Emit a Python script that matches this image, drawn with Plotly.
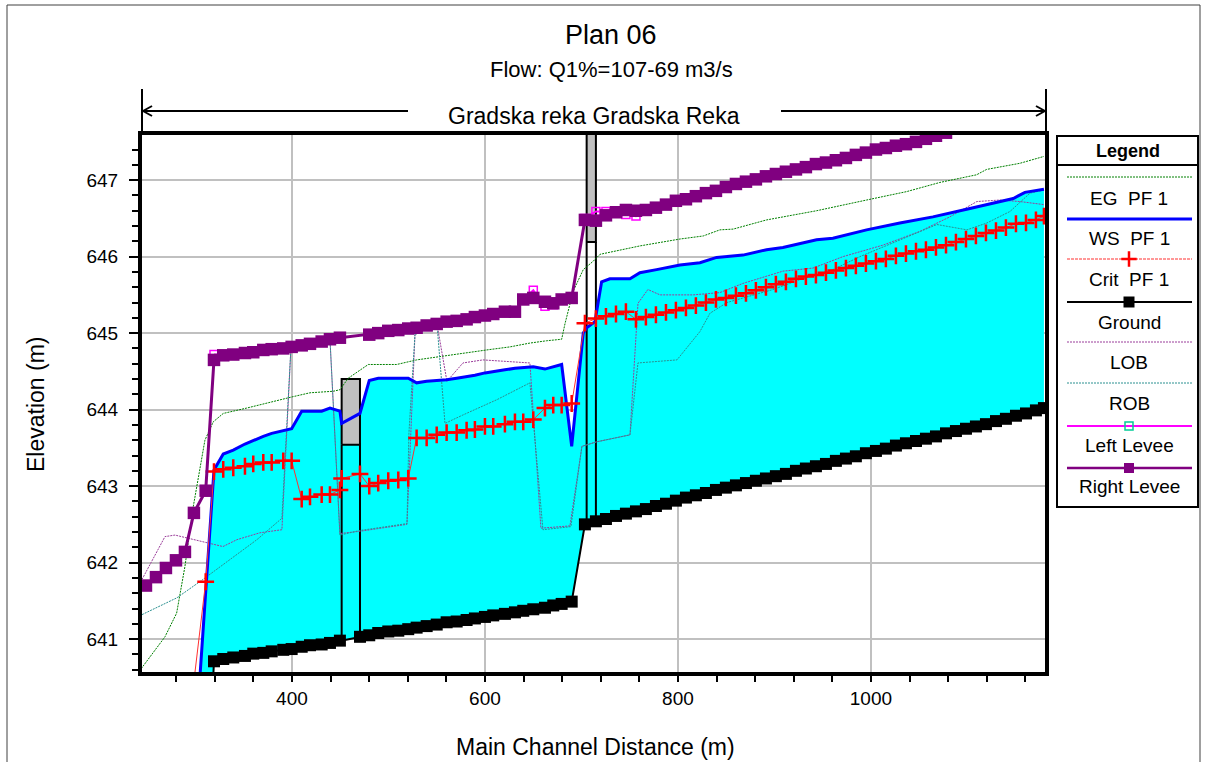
import plotly.graph_objects as go

# ---------------------------------------------------------------------------
# Longitudinal profile, Gradska reka - stations (m) and elevations (m)
# ---------------------------------------------------------------------------
STA_UP = [248.7, 259.1, 269.4, 279.8, 289.1, 298.4, 310.6]
STA_A = [319.2, 328.8, 339.2, 351.3, 359.9, 370.3, 379.0, 391.0, 399.7, 410.1,
         418.7, 430.8, 439.4, 449.7]
STA_B = [470.5, 480.1, 489.4, 499.8, 510.2, 520.5, 529.2, 539.6, 550.0, 560.3,
         570.7, 581.0, 589.6, 600.0, 608.6, 620.7, 631.1, 639.7, 650.1, 662.2,
         670.8, 679.5, 689.9]
STA_C = [703.6, 715.0, 725.4, 735.8, 746.1, 756.5, 766.8, 777.2, 787.6, 797.9,
         808.3, 818.6, 829.0, 839.4, 849.7, 860.1, 870.5, 880.8, 891.2, 901.5,
         911.9, 922.3, 932.6, 943.0, 953.4, 963.7, 974.1, 984.4, 994.8, 1005.2,
         1015.5, 1025.9, 1036.3, 1046.7, 1057.0, 1067.4, 1077.8, 1088.1, 1098.5,
         1108.8, 1119.2, 1129.6, 1139.9, 1150.3, 1160.7, 1171.0, 1179.3]

# channel invert (the two upstream values lie below the plotted range)
GROUND_UP = [638.30, 638.50]
GROUND_A = [640.71, 640.74, 640.76, 640.78, 640.81, 640.82, 640.84, 640.86, 640.87,
            640.90, 640.92, 640.93, 640.95, 640.98]
GROUND_B = [641.03, 641.05, 641.08, 641.10, 641.11, 641.13, 641.15, 641.17, 641.19,
            641.22, 641.23, 641.25, 641.27, 641.29, 641.31, 641.33, 641.35, 641.37,
            641.39, 641.41, 641.44, 641.46, 641.49]
GROUND_C = [642.50, 642.54, 642.57, 642.61, 642.64, 642.67, 642.70, 642.74, 642.77,
            642.81, 642.85, 642.88, 642.91, 642.95, 642.98, 643.01, 643.04, 643.07,
            643.10, 643.13, 643.16, 643.20, 643.23, 643.26, 643.29, 643.33, 643.36,
            643.39, 643.43, 643.46, 643.49, 643.53, 643.56, 643.59, 643.62, 643.65,
            643.69, 643.72, 643.75, 643.78, 643.81, 643.85, 643.88, 643.92, 643.95,
            643.99, 644.02]

# critical depth elevation
CRIT_UP = [640.45, 641.75]
CRIT_A = [643.19, 643.22, 643.24, 643.26, 643.29, 643.31, 643.31, 643.33, 643.33,
          642.83, 642.86, 642.89, 642.89, 642.95]
CRIT_BR1_STA = 451.5
CRIT_BR1 = 643.10
CRIT_B = [643.16, 643.00, 643.04, 643.07, 643.08, 643.10, 643.63, 643.63, 643.67,
          643.70, 643.70, 643.73, 643.74, 643.78, 643.78, 643.81, 643.84, 643.84,
          643.87, 644.02, 644.06, 644.06, 644.08]
CRIT_C = [645.13, 645.19, 645.22, 645.25, 645.28, 645.18, 645.21, 645.24, 645.27,
          645.30, 645.33, 645.36, 645.40, 645.44, 645.46, 645.49, 645.52, 645.56,
          645.60, 645.64, 645.67, 645.71, 645.74, 645.76, 645.79, 645.82, 645.85,
          645.88, 645.91, 645.94, 645.97, 646.01, 646.04, 646.07, 646.09, 646.12,
          646.15, 646.19, 646.23, 646.27, 646.31, 646.34, 646.38, 646.43, 646.44,
          646.48, 646.53]

# water surface PF 1
WS_X = [298.4, 310.6, 319.2, 328.8, 339.2, 351.3, 359.9, 370.3, 379.0, 391.0, 399.7,
        410.1, 418.7, 430.8, 439.4, 449.7, 451.5, 470.5, 480.1, 489.4, 499.8, 510.2,
        520.5, 529.2, 539.6, 550.0, 560.3, 570.7, 581.0, 589.6, 600.0, 608.6, 620.7,
        631.1, 639.7, 650.1, 662.2, 670.8, 679.5, 689.9, 701.9, 705.4, 714.0, 720.9,
        729.5, 750.3, 760.6, 777.9, 802.1, 822.8, 840.1, 867.4, 891.9, 908.8, 943.7,
        960.6, 995.5, 1030.0, 1064.2, 1099.2, 1147.5, 1159.6, 1179.3]
WS_Z = [639.35, 641.60, 643.21, 643.42, 643.47, 643.55, 643.60, 643.65, 643.69, 643.72,
        643.75, 643.98, 643.98, 643.98, 644.02, 643.98, 643.82, 643.95, 644.38, 644.41,
        644.41, 644.41, 644.41, 644.35, 644.37, 644.38, 644.39, 644.41, 644.43, 644.45,
        644.48, 644.50, 644.52, 644.54, 644.55, 644.56, 644.53, 644.56, 644.59, 643.52,
        645.00, 645.07, 645.15, 645.67, 645.71, 645.71, 645.79, 645.83, 645.89, 645.92,
        645.99, 646.02, 646.09, 646.12, 646.22, 646.24, 646.35, 646.44, 646.52, 646.62,
        646.76, 646.84, 646.88]

# energy grade line PF 1
EG_X = [240.0, 268.4, 280.5, 289.1, 297.7, 309.8, 318.4, 328.8, 353.0, 380.6, 401.3,
        418.7, 442.8, 449.7, 458.3, 479.1, 508.5, 529.2, 550.0, 577.5, 601.8, 625.9,
        646.6, 663.9, 679.5, 682.9, 691.5, 701.9, 712.2, 719.2, 760.6, 802.1, 826.2,
        843.5, 857.3, 891.9, 943.7, 995.5, 1037.0, 1071.5, 1109.5, 1119.9, 1154.4,
        1179.3]
EG_Z = [640.55, 641.03, 641.34, 641.95, 642.73, 643.60, 643.84, 643.95, 644.02, 644.11,
        644.17, 644.22, 644.24, 644.26, 644.41, 644.59, 644.59, 644.65, 644.69, 644.74,
        644.78, 644.82, 644.87, 644.90, 644.92, 645.12, 645.55, 645.83, 645.94, 646.03,
        646.14, 646.23, 646.27, 646.35, 646.36, 646.48, 646.60, 646.74, 646.85, 646.97,
        647.07, 647.14, 647.22, 647.31]

# left / right overbank stations
LOB_X = [244.6, 268.4, 278.8, 315.0, 328.5, 343.0, 366.8, 389.6, 399.0, 439.4, 449.7,
         470.5, 519.2, 527.5, 550.3, 560.6, 577.2, 597.9, 646.6, 658.0, 688.1, 700.5,
         716.1, 750.3, 758.6, 768.9, 781.4, 815.6, 843.5, 867.4, 908.8, 939.9, 971.0,
         1012.4, 1050.7, 1081.8, 1109.8, 1133.7, 1154.4, 1179.3]
LOB_Z = [641.78, 642.34, 642.36, 642.25, 642.21, 642.30, 642.39, 642.43, 644.82, 644.92,
         642.38, 642.41, 642.50, 644.98, 645.12, 644.37, 644.61, 644.65, 644.61, 642.45,
         642.48, 643.52, 643.58, 643.67, 645.39, 645.57, 645.50, 645.50, 645.53, 645.65,
         645.81, 645.85, 646.00, 646.15, 646.33, 646.52, 646.72, 646.74, 646.72, 646.68]
ROB_X = [244.6, 280.8, 307.8, 335.7, 363.7, 389.6, 399.0, 439.4, 449.7, 470.5, 519.2,
         521.2, 527.5, 550.3, 558.6, 577.2, 612.4, 646.6, 660.1, 689.1, 700.5, 716.1,
         750.3, 758.6, 799.0, 822.8, 833.2, 850.8, 874.6, 898.5, 926.4, 960.6, 988.6,
         1030.0, 1068.4, 1099.5, 1120.2, 1144.1, 1164.8, 1179.3]
ROB_Z = [641.32, 641.54, 641.78, 642.04, 642.30, 642.58, 644.82, 644.92, 642.36, 642.42,
         642.51, 643.69, 644.98, 645.12, 643.82, 643.93, 644.13, 644.35, 642.43, 642.47,
         643.52, 643.58, 643.67, 644.61, 644.65, 645.02, 645.26, 645.40, 645.48, 645.57,
         645.70, 645.83, 646.00, 646.22, 646.42, 646.35, 646.44, 646.59, 646.83, 646.87]

# right levee crest (upstream, reach A, reach B without bridge face, reach C)
RLEVEE_UP = [641.70, 641.81, 641.93, 642.03, 642.14, 642.65, 642.94]
RLEVEE_A = [644.65, 644.71, 644.72, 644.74, 644.75, 644.78, 644.79, 644.80, 644.82,
            644.84, 644.86, 644.89, 644.92, 644.94]
RLEVEE_B = [644.98, 645.00, 645.03, 645.04, 645.06, 645.07, 645.10, 645.12, 645.15,
            645.16, 645.18, 645.21, 645.23, 645.25, 645.28, 645.28, 645.44, 645.46,
            645.41, 645.39, 645.44, 645.46]
RLEVEE_C = [646.48, 646.47, 646.54, 646.58, 646.61, 646.60, 646.61, 646.64, 646.68,
            646.73, 646.75, 646.79, 646.83, 646.86, 646.91, 646.95, 646.98, 647.01,
            647.05, 647.08, 647.11, 647.14, 647.17, 647.21, 647.23, 647.26, 647.29,
            647.33, 647.36, 647.40, 647.42, 647.45, 647.47, 647.50, 647.54, 647.58,
            647.62]

# left levee crest (only where it departs from the right levee)
LLEVEE_X = [319.2, 328.8, None, 639.7, 650.1, 662.2, 670.8, 679.5, None,
            703.6, 715.0, 725.4, 735.8, 746.1, 756.5, 766.8]
LLEVEE_Z = [644.72, 644.72, None, 645.44, 645.56, 645.35, 645.37, 645.44, None,
            646.50, 646.59, 646.59, 646.58, 646.55, 646.53, 646.61]

# bridges: upstream / downstream faces, low chord, high chord, ground at faces
BRIDGE_UP_STA = [451.5, 705.4]
BRIDGE_DN_STA = [470.5, 715.0]
DECK_LOW = [643.54, 646.19]
DECK_HIGH = [644.40, 648.20]
FACE_GROUND_UP = [640.98, 642.51]
FACE_GROUND_DN = [641.03, 642.54]

X_RANGE = [244.6, 1180.4]
Y_RANGE = [640.57, 647.59]

TITLE = "Plan 06"
SUBTITLE = "Flow: Q1%=107-69 m3/s"
REACH = "Gradska reka Gradska Reka"
X_TITLE = "Main Channel Distance (m)"
Y_TITLE = "Elevation (m)"

# ---------------------------------------------------------------------------
W, H = 1205, 762
FONT = "Liberation Sans, Arial, sans-serif"
PL, PR, PT, PB = 142, 1045, 135, 672


def fx(px):
    return px / W


def fy(py):
    return 1 - py / H


def label(px, py, text, size, angle=0):
    return dict(x=fx(px), y=fy(py), xref="paper", yref="paper", text=text,
                showarrow=False, xanchor="center", yanchor="middle", textangle=angle,
                font=dict(size=size, color="black", family=FONT))


ground_x = STA_UP[5:] + STA_A + STA_B + STA_C
ground_z = GROUND_UP + GROUND_A + GROUND_B + GROUND_C
crit_x = STA_UP[5:] + STA_A + [CRIT_BR1_STA] + STA_B + STA_C
crit_z = CRIT_UP + CRIT_A + [CRIT_BR1] + CRIT_B + CRIT_C
rlev_x = STA_UP + STA_A + STA_B[1:] + STA_C[:len(RLEVEE_C)]
rlev_z = RLEVEE_UP + RLEVEE_A + RLEVEE_B + RLEVEE_C

fig = go.Figure()

# water body between the water surface and the channel bed
fig.add_trace(go.Scatter(
    x=WS_X + ground_x[::-1], y=WS_Z + ground_z[::-1],
    mode="lines", fill="toself", fillcolor="#00ffff",
    line=dict(color="rgba(0,0,0,0)", width=0), hoverinfo="skip"))

# bridge decks and faces
for u, d, lo, hi, gu, gd in zip(BRIDGE_UP_STA, BRIDGE_DN_STA, DECK_LOW, DECK_HIGH,
                                FACE_GROUND_UP, FACE_GROUND_DN):
    fig.add_trace(go.Scatter(
        x=[u, d, d, u, u], y=[lo, lo, hi, hi, lo], mode="lines", fill="toself",
        fillcolor="#c0c0c0", line=dict(color="black", width=2), hoverinfo="skip"))
    fig.add_trace(go.Scatter(
        x=[u, u, None, d, d], y=[gu, lo, None, gd, lo], mode="lines",
        line=dict(color="black", width=2), hoverinfo="skip"))

DOTS = "2px,1px"
fig.add_trace(go.Scatter(x=EG_X, y=EG_Z, mode="lines",
                         line=dict(color="#008000", width=1, dash=DOTS)))
fig.add_trace(go.Scatter(x=LOB_X, y=LOB_Z, mode="lines",
                         line=dict(color="#9a3c9a", width=1, dash=DOTS)))
fig.add_trace(go.Scatter(x=ROB_X, y=ROB_Z, mode="lines",
                         line=dict(color="#2a9090", width=1, dash=DOTS)))
fig.add_trace(go.Scatter(x=ground_x, y=ground_z, mode="lines+markers",
                         line=dict(color="black", width=2),
                         marker=dict(symbol="square", size=12, color="black")))
fig.add_trace(go.Scatter(x=WS_X, y=WS_Z, mode="lines",
                         line=dict(color="#0000ff", width=3)))
fig.add_trace(go.Scatter(x=crit_x, y=crit_z, mode="lines+markers",
                         line=dict(color="#ff3030", width=1),
                         marker=dict(symbol="cross-thin", size=12,
                                     line=dict(color="#ff0000", width=2.5))))
fig.add_trace(go.Scatter(x=LLEVEE_X, y=LLEVEE_Z, mode="lines+markers",
                         line=dict(color="#ff00ff", width=2),
                         marker=dict(symbol="square-open", size=8,
                                     line=dict(color="#ff00ff", width=1.5))))
fig.add_trace(go.Scatter(x=rlev_x, y=rlev_z, mode="lines+markers",
                         line=dict(color="#800080", width=3),
                         marker=dict(symbol="square", size=12.5, color="#800080")))

# ---------------- legend panel (own axes, pixel-like frame) ----------------
LEG_L, LEG_R, LEG_T, LEG_B = 1057, 1198, 136, 507
LEG_ROWS = [
    ("EG\u00a0 PF 1", 177, 198, dict(color="#008000", width=1, dash=DOTS), None),
    ("WS\u00a0 PF 1", 219, 239, dict(color="#0000ff", width=3), None),
    ("Crit\u00a0 PF 1", 259, 280, dict(color="#ff3030", width=1, dash="3px,1px"),
     dict(symbol="cross-thin", size=11, line=dict(color="#ff0000", width=2.5))),
    ("Ground", 302, 322, dict(color="black", width=2),
     dict(symbol="square", size=11, color="black")),
    ("LOB", 342, 362, dict(color="#9a3c9a", width=1, dash=DOTS), None),
    ("ROB", 383, 403, dict(color="#2a9090", width=1, dash=DOTS), None),
    ("Left Levee", 426, 445, dict(color="#ff00ff", width=2),
     dict(symbol="square-open", size=8, line=dict(color="#ff00ff", width=1.5))),
    ("Right Levee", 468, 486, dict(color="#800080", width=2.5),
     dict(symbol="square", size=10, color="#800080")),
]
annotations = []
for text, ly, ty, ln, mk in LEG_ROWS:
    fig.add_trace(go.Scatter(x=[1067, 1192], y=[ly, ly], mode="lines", line=ln,
                             xaxis="x2", yaxis="y2", hoverinfo="skip"))
    if mk is not None:
        fig.add_trace(go.Scatter(x=[1129], y=[ly], mode="markers", marker=mk,
                                 xaxis="x2", yaxis="y2", hoverinfo="skip"))
    annotations.append(label(1129, ty, text, 19))
annotations.append(label(1128, 151, "<b>Legend</b>", 18))

# ---------------- titles ----------------
annotations += [
    label(611, 35, TITLE, 27),
    label(611, 70, SUBTITLE, 22),
    label(594, 116, REACH, 23),
    label(595, 747, X_TITLE, 23),
    label(36, 405, Y_TITLE, 23, angle=-90),
]


def pline(x0, y0, x1, y1, width=2, color="black"):
    return dict(type="line", xref="paper", yref="paper", x0=fx(x0), y0=fy(y0),
                x1=fx(x1), y1=fy(y1), line=dict(color=color, width=width))


shapes = [
    # outer frame
    dict(type="rect", xref="paper", yref="paper", x0=fx(7), y0=fy(775), x1=fx(1200),
         y1=fy(5), line=dict(color="#404040", width=1)),
    # reach extent arrow
    pline(PL, 89, PL, 134), pline(1046, 89, 1046, 134),
    pline(PL, 111, 408, 111), pline(781, 111, 1046, 111),
    pline(PL + 1, 111, PL + 10, 106), pline(PL + 1, 111, PL + 10, 116),
    pline(1045, 111, 1036, 106), pline(1045, 111, 1036, 116),
    # legend box
    dict(type="rect", xref="paper", yref="paper", x0=fx(LEG_L), y0=fy(LEG_B),
         x1=fx(LEG_R), y1=fy(LEG_T), line=dict(color="black", width=2)),
    pline(LEG_L, 165, LEG_R, 165),
]

axis_font = dict(size=19, color="black", family=FONT)
fig.update_layout(
    width=W, height=H, margin=dict(l=0, r=0, t=0, b=0),
    paper_bgcolor="white", plot_bgcolor="white", showlegend=False,
    font=dict(family=FONT, color="black"),
    xaxis=dict(domain=[fx(PL), fx(PR)], range=X_RANGE, tick0=0, dtick=200,
               ticks="outside", ticklen=6, tickwidth=2, tickcolor="black",
               showgrid=True, gridcolor="#c0c0c0", gridwidth=2, zeroline=False,
               showline=True, linewidth=4, linecolor="black", mirror=True,
               tickfont=axis_font, automargin=False, fixedrange=True,
               minor=dict(dtick=40, ticks="outside", ticklen=6, tickwidth=2,
                          tickcolor="black", showgrid=False)),
    yaxis=dict(domain=[fy(PB), fy(PT)], range=Y_RANGE, tick0=0, dtick=1,
               ticks="outside", ticklen=9, tickwidth=2, tickcolor="black",
               showgrid=True, gridcolor="#c0c0c0", gridwidth=2, zeroline=False,
               showline=True, linewidth=4, linecolor="black", mirror=True,
               tickfont=axis_font, automargin=False, fixedrange=True,
               ticklabelstandoff=7,
               minor=dict(dtick=0.2, ticks="outside", ticklen=6, tickwidth=2,
                          tickcolor="black", showgrid=False)),
    xaxis2=dict(domain=[fx(LEG_L), fx(LEG_R)], range=[LEG_L, LEG_R], visible=False,
                fixedrange=True),
    yaxis2=dict(domain=[fy(LEG_B), fy(LEG_T)], range=[LEG_B, LEG_T], visible=False,
                fixedrange=True),
    annotations=annotations, shapes=shapes,
)

fig.write_html("out.html")
